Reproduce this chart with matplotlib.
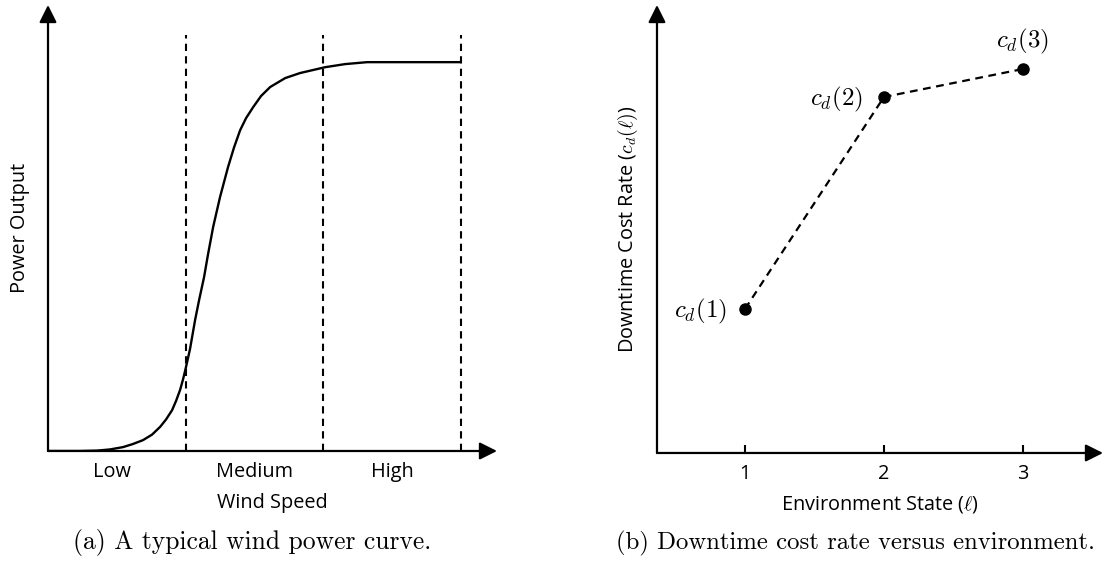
import matplotlib
matplotlib.use("Agg")
import matplotlib.pyplot as plt

plt.rcParams['font.family'] = ['Open Sans', 'DejaVu Sans']
plt.rcParams['mathtext.fontset'] = 'cm'

wind_speed = [0.0, 0.232, 0.356, 0.450, 0.545, 0.617, 0.690, 0.755, 0.814, 0.857,
              0.901, 0.930, 0.959, 0.981, 1.002, 1.031, 1.068, 1.097, 1.133, 1.162,
              1.199, 1.249, 1.307, 1.351, 1.395, 1.438, 1.489, 1.547, 1.613, 1.722,
              1.830, 2.012, 2.157, 2.317, 2.680, 2.993]
power_out = [0.0, 0.0, 0.001, 0.004, 0.010, 0.018, 0.028, 0.042, 0.062, 0.081,
             0.105, 0.129, 0.157, 0.185, 0.216, 0.262, 0.337, 0.388, 0.447, 0.506,
             0.576, 0.653, 0.730, 0.781, 0.825, 0.856, 0.884, 0.913, 0.936, 0.959,
             0.972, 0.987, 0.995, 1.000, 1.000, 1.000]
region_edges = [1, 2, 3]
region_names = ['Low', 'Medium', 'High']
region_label_pos = [0.465, 1.496, 2.5]

# downtime cost rate per environment state
env_state = [1, 2, 3]
cost_rate = [1.44, 3.56, 3.84]
cost_labels = [r'$c_d(1)$', r'$c_d(2)$', r'$c_d(3)$']


def arrow_axes(ax):
    for s in ax.spines.values():
        s.set_visible(False)
    kw = dict(arrowstyle='-|>,head_length=0.7,head_width=0.35', lw=1.6, color='black',
              shrinkA=0, shrinkB=0, mutation_scale=15)
    ax.annotate('', xy=(1, 0), xytext=(0, 0), xycoords='axes fraction',
                arrowprops=kw, annotation_clip=False)
    ax.annotate('', xy=(0, 1), xytext=(0, 0), xycoords='axes fraction',
                arrowprops=kw, annotation_clip=False)
    ax.set_yticks([])


fig = plt.figure(figsize=(11.04, 5.68), dpi=100)

# (a) power curve
ax1 = fig.add_axes([0.04348, 0.2060, 0.4067, 0.7852])
arrow_axes(ax1)
ax1.plot(wind_speed, power_out, color='black', lw=1.7, solid_capstyle='round')
ax1.vlines(region_edges, 0, 1.069, colors='black', linestyles=(0, (3.5, 2.5)), lw=1.5)
ax1.set_xlim(0, 3.26)
ax1.set_ylim(0, 1.147)
ax1.set_xticks(region_label_pos)
ax1.set_xticklabels(region_names, fontsize=14.3)
ax1.tick_params(axis='x', length=0, pad=8)
ax1.set_xlabel('Wind Speed', fontsize=14.3, labelpad=8)
ax1.set_ylabel('Power Output', fontsize=14.3, labelpad=13)
fig.text(252 / 1104, 1 - 543 / 568, '(a) A typical wind power curve.',
         family='cmr10', fontsize=18.4, ha='center', va='center')

# (b) downtime cost rate
ax2 = fig.add_axes([0.5951, 0.2025, 0.404, 0.7887])
arrow_axes(ax2)
ax2.plot(env_state, cost_rate, color='black', lw=1.6, linestyle=(0, (3.5, 2.5)),
         marker='o', markersize=8)
for x, y, lab, dx, dy, ha in zip(env_state, cost_rate, cost_labels,
                                 [-13, -15, 0], [-2, -2, 20], ['right', 'right', 'center']):
    ax2.annotate(lab, (x, y), xytext=(dx, dy), textcoords='offset points',
                 ha=ha, va='center', fontsize=18)
ax2.set_xlim(0.367, 3.576)
ax2.set_ylim(0, 4.48)
ax2.set_xticks(env_state)
ax2.set_xticklabels([str(v) for v in env_state], fontsize=14.3)
ax2.tick_params(axis='x', direction='in', length=6, width=1.5, pad=8)
ax2.set_xlabel(r'Environment State ($\ell$)', fontsize=14.3, labelpad=7)
ax2.set_ylabel(r'Downtime Cost Rate ($c_d(\ell)$)', fontsize=14.3, labelpad=12)
fig.text(855 / 1104, 1 - 543 / 568, '(b) Downtime cost rate versus environment.',
         family='cmr10', fontsize=17.8, ha='center', va='center')

fig.savefig('out.png', dpi=100)
